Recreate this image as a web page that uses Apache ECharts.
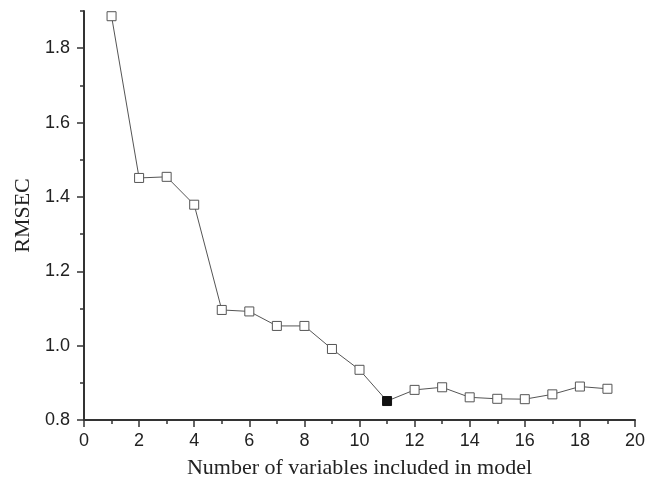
<!DOCTYPE html>
<html>
<head>
<meta charset="utf-8">
<script src="https://cdn.jsdelivr.net/npm/echarts@6/dist/echarts.min.js"></script>
<style>
    html, body { margin: 0; padding: 0; background: #fff; }
    #chart { width: 656px; height: 488px; }
</style>
</head>
<body>
<div id="chart"></div>
<script>
(function(){

    // number of variables included in model
    let nVars = [1, 2, 3, 4, 5, 6, 7, 8, 9, 10, 11, 12, 13, 14, 15, 16, 17, 18, 19];
    // RMSEC for each model size
    let rmsec = [1.886, 1.451, 1.454, 1.379, 1.096, 1.092, 1.053, 1.053, 0.991, 0.935,
                 0.851, 0.881, 0.888, 0.861, 0.857, 0.856, 0.869, 0.890, 0.884];
    // the optimum (drawn filled)
    let bestVars = 11;

    let yMajorTicks = [0.8, 1.0, 1.2, 1.4, 1.6, 1.8];
    let yMinorTicks = [0.9, 1.1, 1.3, 1.5, 1.7, 1.9];

    let axisColor = '#333';
    let labelFont = {
        fontFamily: '"Liberation Sans", Arial, sans-serif',
        fontSize: 18,
        color: '#222'
    };
    let nameFont = {
        fontFamily: '"Liberation Serif", "Times New Roman", serif',
        fontSize: 22,
        color: '#222'
    };

    let seriesData = nVars.map(function(n, i){
        let item = { value: [n, rmsec[i]] };
        if (n === bestVars){
            item.itemStyle = { color: '#111', borderColor: '#111' };
        }
        return item;
    });

    let chart = echarts.init(document.getElementById('chart'), null, { renderer: 'canvas' });

    chart.setOption({
        animation: false,
        backgroundColor: '#fff',
        grid: {
            left: 84,
            right: 21,
            top: 11,
            bottom: 68,
            containLabel: false
        },
        xAxis: {
            type: 'value',
            min: 0,
            max: 20,
            interval: 2,
            name: 'Number of variables included in model',
            nameLocation: 'middle',
            nameGap: 37,
            nameTextStyle: nameFont,
            splitLine: { show: false },
            axisLine: { lineStyle: { color: axisColor, width: 2 } },
            axisTick: { inside: false, length: 7, lineStyle: { color: axisColor, width: 1.5 } },
            minorTick: { show: true, splitNumber: 2, length: 4, lineStyle: { color: axisColor, width: 1.5 } },
            axisLabel: Object.assign({ margin: 12 }, labelFont)
        },
        yAxis: [{
            type: 'value',
            min: 0.8,
            max: 1.9,
            name: 'RMSEC',
            nameLocation: 'middle',
            nameGap: 48,
            nameTextStyle: nameFont,
            splitLine: { show: false },
            axisLine: { lineStyle: { color: axisColor, width: 2 } },
            axisTick: { inside: false, length: 7, customValues: yMajorTicks, lineStyle: { color: axisColor, width: 1.5 } },
            axisLabel: Object.assign({
                margin: 14,
                customValues: yMajorTicks,
                formatter: function(v){ return v.toFixed(1); }
            }, labelFont)
        }, {
            type: 'value',
            position: 'left',
            min: 0.8,
            max: 1.9,
            splitLine: { show: false },
            axisLine: { show: false },
            axisLabel: { show: false },
            axisTick: { inside: false, length: 4, customValues: yMinorTicks, lineStyle: { color: axisColor, width: 1.5 } }
        }],
        series: [{
            type: 'line',
            yAxisIndex: 0,
            data: seriesData,
            symbol: 'rect',
            symbolSize: 9,
            showAllSymbol: true,
            lineStyle: { color: '#555', width: 1 },
            itemStyle: { color: '#fff', borderColor: '#555', borderWidth: 1 }
        }]
    });

    window.addEventListener('resize', function(){
        chart.resize();
    });
})();
</script>
</body>
</html>
